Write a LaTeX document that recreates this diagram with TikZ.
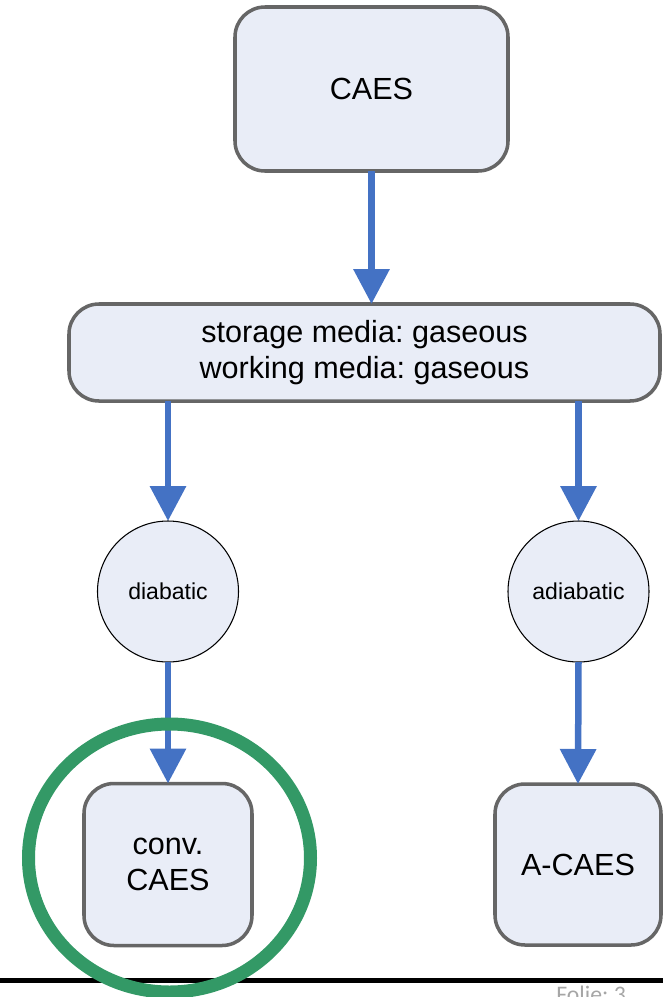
\documentclass[tikz,border=0pt]{standalone}
\usepackage{fontspec}
\setmainfont{Liberation Sans}
\newfontfamily\footfont{Carlito}
\usetikzlibrary{arrows.meta}
\frenchspacing

\definecolor{boxfill}{RGB}{233,237,247}
\definecolor{boxline}{RGB}{102,102,102}
\definecolor{flowblue}{RGB}{68,114,196}
\definecolor{markgreen}{RGB}{51,153,102}

\begin{document}
\begin{tikzpicture}[
        box/.style={draw=boxline, fill=boxfill, line width=2pt, rounded corners=0.6cm, outer sep=0pt,
            align=center, font=\fontsize{17.4}{20.2}\selectfont},
        phase/.style={circle, draw=black, fill=boxfill, line width=0.6pt, minimum size=2.82cm, inner sep=0pt,
            outer sep=0pt, font=\fontsize{13.1}{15.5}\selectfont},
        flow/.style={flowblue, line width=3.7pt, -{Triangle[width=0.7cm, length=0.7cm]}}
    ]
        \clip (0,0) rectangle (13.26,-19.94);

        % Classification of CAES
        \node[box, minimum width=5.46cm, minimum height=3.28cm] (caes) at (7.43,-1.78) {CAES};
        \node[box, minimum width=11.82cm, minimum height=1.94cm] (media) at (7.29,-7.05)
            {storage media: gaseous\\working media: gaseous};
        \node[phase] (diab) at (3.36,-11.83) {diabatic};
        \node[phase] (adiab) at (11.57,-11.83) {adiabatic};
        \node[box, minimum width=3.36cm, minimum height=3.24cm] (conv) at (3.36,-17.29) {conv.\\CAES};
        \node[box, minimum width=3.32cm, minimum height=3.22cm] (acaes) at (11.56,-17.29) {A-CAES};

        % Arrows
        \draw[flow] (caes.south) -- (caes.south |- media.north);
        \draw[flow] (diab.north |- media.south) -- (diab.north);
        \draw[flow] (adiab.north |- media.south) -- (adiab.north);
        \draw[flow] (diab.south) -- (conv.north);
        \draw[flow] (adiab.south) -- (acaes.north);

        % Footer and highlight
        \draw[line width=2.3pt] (0,-19.61) -- (13.26,-19.61);
        \node[anchor=base west, inner sep=0pt, text=black!35, font=\footfont\fontsize{13.5}{16}\selectfont]
            (folie) at (11.12,-20.04) {Folie: 3};
        \draw[markgreen, line width=7.4pt] (3.39,-17.16) ellipse [x radius=2.82cm, y radius=2.68cm];
    \end{tikzpicture}
\end{document}
